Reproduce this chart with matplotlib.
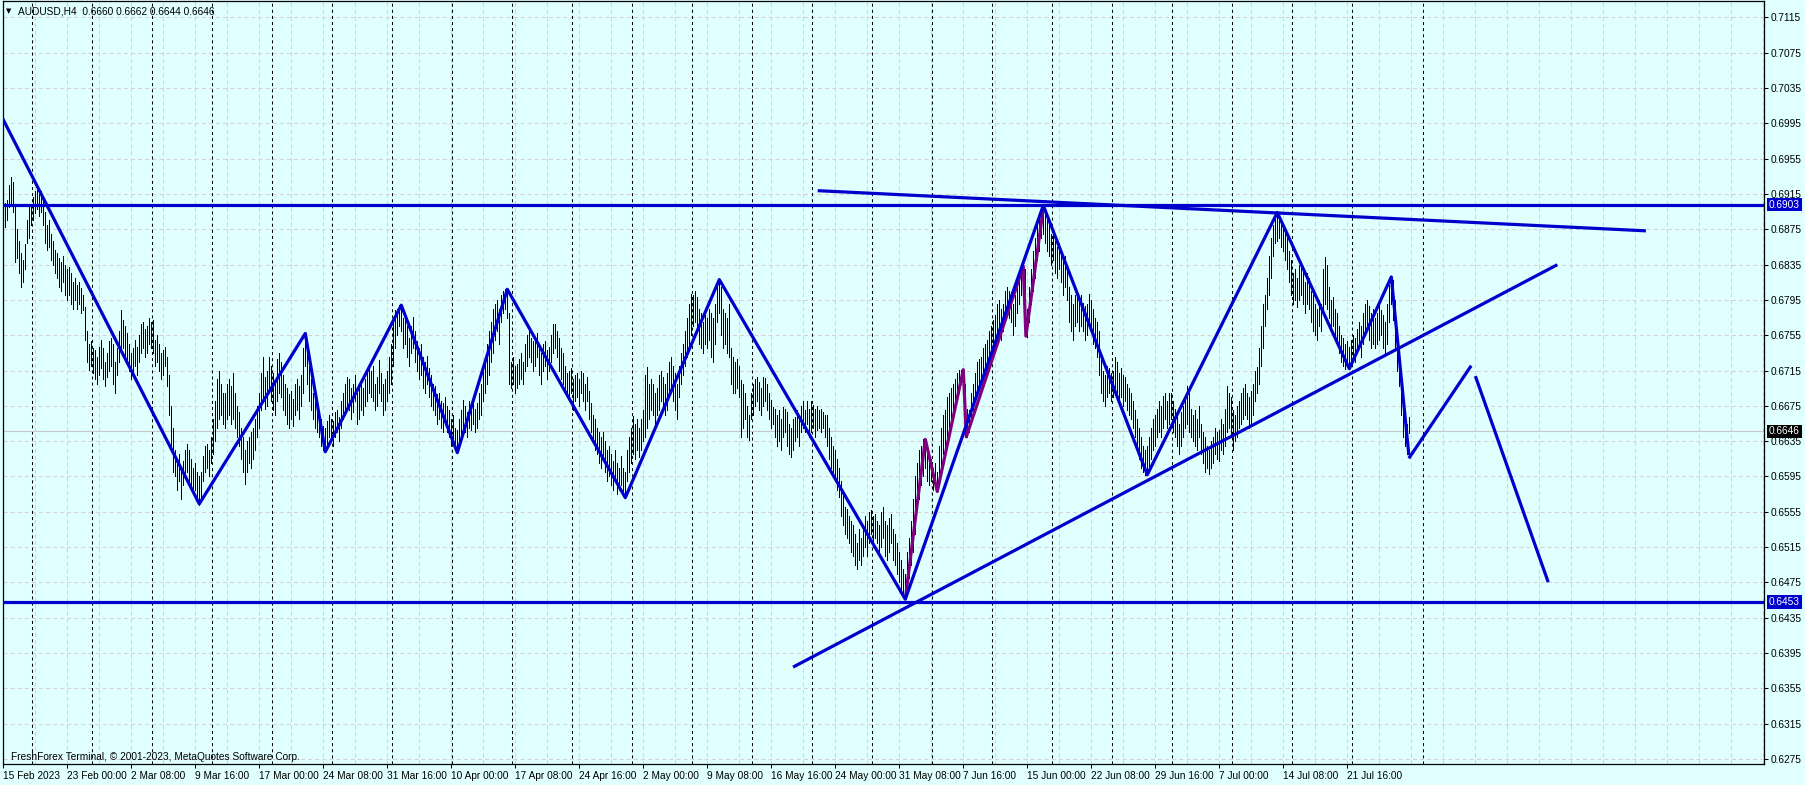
import numpy as np
import matplotlib
matplotlib.use("Agg")
import matplotlib.pyplot as plt
import matplotlib.transforms as mtransforms

# H4 bars (low, high) in pips, one per bar from 15 Feb 2023 16:00
H4_BARS = [
    (6863,6897),(6878,6905),(6885,6908),(6900,6925),(6905,6934),(6895,6928),(6838,6900),(6842,6875),(6825,6862),(6810,6848),
    (6815,6840),(6830,6858),(6859,6885),(6865,6904),(6880,6900),(6885,6912),(6893,6918),(6898,6921),(6890,6915),(6895,6918),
    (6880,6910),(6860,6895),(6851,6880),(6855,6885),(6840,6870),(6835,6862),(6825,6852),(6820,6848),(6810,6842),(6805,6838),
    (6815,6845),(6800,6835),(6795,6830),(6800,6832),(6790,6825),(6785,6815),(6795,6820),(6785,6812),(6790,6815),(6780,6808),
    (6783,6800),(6750,6787),(6725,6760),(6716,6745),(6720,6748),(6712,6740),(6705,6738),(6700,6730),(6710,6742),(6718,6750),
    (6705,6740),(6697,6725),(6708,6735),(6715,6748),(6720,6752),(6700,6745),(6690,6725),(6710,6740),(6725,6760),(6735,6783),
    (6740,6772),(6730,6765),(6722,6758),(6715,6745),(6705,6735),(6712,6740),(6720,6750),(6710,6742),(6725,6755),(6735,6768),
    (6740,6770),(6730,6762),(6735,6765),(6745,6774),(6740,6770),(6735,6772),(6720,6750),(6725,6755),(6715,6745),(6705,6735),
    (6710,6738),(6720,6742),(6697,6730),(6665,6710),(6630,6675),(6600,6650),(6595,6625),(6580,6615),(6590,6620),(6570,6605),
    (6585,6612),(6595,6625),(6600,6632),(6590,6625),(6585,6615),(6575,6605),(6580,6610),(6570,6600),(6563,6595),(6572,6600),
    (6590,6618),(6600,6630),(6605,6632),(6595,6625),(6610,6640),(6620,6660),(6635,6680),(6650,6705),(6660,6715),(6665,6700),
    (6655,6690),(6650,6690),(6660,6700),(6665,6705),(6655,6698),(6660,6712),(6650,6690),(6640,6675),(6630,6668),(6615,6650),
    (6600,6640),(6587,6625),(6600,6635),(6610,6640),(6605,6645),(6615,6650),(6625,6660),(6640,6675),(6650,6690),(6670,6712),
    (6680,6730),(6672,6708),(6675,6715),(6690,6730),(6680,6720),(6670,6712),(6665,6705),(6680,6728),(6690,6735),(6685,6725),
    (6670,6710),(6665,6700),(6655,6695),(6650,6688),(6660,6692),(6652,6683),(6665,6700),(6670,6705),(6660,6698),(6675,6710),
    (6690,6740),(6720,6757),(6700,6745),(6680,6720),(6670,6705),(6660,6690),(6650,6680),(6645,6675),(6640,6668),(6630,6660),
    (6625,6652),(6623,6650),(6630,6658),(6640,6665),(6635,6660),(6630,6658),(6640,6668),(6645,6670),(6635,6662),(6650,6680),
    (6660,6690),(6665,6700),(6675,6708),(6670,6705),(6660,6695),(6668,6700),(6680,6710),(6655,6690),(6660,6695),(6670,6700),
    (6665,6695),(6675,6705),(6680,6715),(6690,6722),(6685,6715),(6680,6720),(6670,6700),(6675,6708),(6690,6727),(6680,6712),
    (6665,6700),(6670,6705),(6680,6715),(6690,6730),(6700,6745),(6720,6772),(6740,6784),(6755,6785),(6765,6789),(6760,6789),
    (6740,6775),(6745,6778),(6730,6765),(6720,6752),(6735,6765),(6740,6776),(6725,6760),(6715,6748),(6705,6740),(6710,6745),
    (6695,6730),(6690,6725),(6700,6732),(6685,6718),(6675,6710),(6670,6700),(6665,6698),(6655,6688),(6660,6690),(6650,6680),
    (6645,6678),(6655,6685),(6645,6675),(6640,6670),(6630,6660),(6635,6665),(6625,6650),(6622,6648),(6630,6660),(6640,6670),
    (6650,6682),(6645,6675),(6640,6668),(6650,6680),(6648,6675),(6655,6685),(6645,6672),(6650,6678),(6660,6690),(6665,6700),
    (6680,6715),(6690,6730),(6700,6745),(6710,6760),(6725,6770),(6735,6785),(6750,6790),(6760,6795),(6745,6785),(6770,6800),
    (6780,6805),(6785,6807),(6775,6805),(6700,6780),(6695,6725),(6700,6730),(6690,6720),(6695,6722),(6700,6728),(6705,6735),
    (6700,6725),(6715,6745),(6720,6755),(6730,6760),(6725,6752),(6715,6748),(6720,6750),(6730,6758),(6710,6745),(6700,6735),
    (6715,6745),(6720,6748),(6705,6738),(6715,6742),(6725,6755),(6735,6768),(6740,6768),(6730,6760),(6715,6752),(6705,6740),
    (6700,6735),(6690,6720),(6685,6712),(6680,6715),(6690,6718),(6670,6705),(6680,6710),(6685,6712),(6675,6705),(6690,6715),
    (6680,6712),(6670,6700),(6680,6708),(6660,6692),(6645,6678),(6635,6665),(6625,6660),(6620,6650),(6610,6645),(6605,6640),
    (6615,6645),(6600,6635),(6590,6625),(6595,6630),(6585,6620),(6580,6612),(6590,6625),(6575,6610),(6580,6605),(6585,6618),
    (6578,6605),(6571,6600),(6590,6625),(6600,6640),(6610,6650),(6620,6663),(6615,6655),(6625,6660),(6617,6650),(6625,6660),
    (6635,6670),(6640,6710),(6650,6719),(6660,6700),(6670,6705),(6665,6700),(6655,6690),(6665,6695),(6670,6710),(6680,6715),
    (6675,6708),(6665,6700),(6670,6712),(6685,6725),(6690,6730),(6680,6720),(6670,6712),(6660,6700),(6685,6720),(6700,6735),
    (6710,6745),(6720,6760),(6730,6775),(6740,6790),(6755,6802),(6765,6800),(6770,6805),(6760,6798),(6745,6785),(6740,6780),
    (6735,6770),(6745,6778),(6740,6775),(6750,6785),(6730,6780),(6725,6775),(6745,6790),(6770,6810),(6780,6818),(6755,6810),
    (6740,6785),(6745,6780),(6735,6775),(6730,6790),(6700,6740),(6689,6730),(6690,6725),(6695,6728),(6685,6720),(6640,6704),
    (6650,6700),(6660,6690),(6640,6675),(6636,6665),(6660,6690),(6665,6700),(6675,6705),(6680,6708),(6670,6702),(6665,6695),
    (6675,6708),(6680,6706),(6670,6700),(6660,6690),(6650,6682),(6655,6674),(6640,6672),(6630,6665),(6635,6670),(6625,6660),
    (6640,6674),(6645,6672),(6630,6668),(6620,6655),(6617,6650),(6625,6660),(6635,6662),(6640,6670),(6630,6665),(6645,6675),
    (6650,6680),(6645,6670),(6655,6680),(6640,6672),(6645,6680),(6650,6676),(6640,6672),(6648,6675),(6650,6670),(6645,6672),
    (6650,6668),(6640,6665),(6630,6665),(6615,6650),(6605,6640),(6600,6630),(6590,6625),(6580,6615),(6572,6605),(6550,6590),
    (6540,6575),(6530,6560),(6525,6558),(6520,6550),(6510,6545),(6505,6540),(6495,6530),(6490,6520),(6500,6535),(6495,6525),
    (6505,6540),(6515,6550),(6505,6545),(6520,6555),(6530,6557),(6515,6550),(6525,6552),(6520,6545),(6510,6540),(6515,6555),
    (6525,6560),(6505,6545),(6500,6540),(6510,6548),(6520,6552),(6500,6535),(6495,6530),(6485,6520),(6475,6510),(6465,6500),
    (6460,6490),(6456,6485),(6465,6510),(6480,6525),(6495,6545),(6510,6570),(6530,6595),(6560,6610),(6570,6625),(6585,6630),
    (6595,6637),(6605,6637),(6590,6625),(6585,6620),(6590,6615),(6580,6605),(6582,6610),(6578,6600),(6590,6630),(6605,6650),
    (6620,6665),(6630,6670),(6640,6685),(6650,6690),(6660,6695),(6665,6700),(6670,6705),(6680,6712),(6690,6716),(6700,6716),
    (6690,6716),(6650,6700),(6640,6672),(6645,6670),(6660,6690),(6670,6700),(6680,6712),(6690,6725),(6695,6728),(6700,6730),
    (6705,6740),(6710,6745),(6715,6750),(6725,6760),(6735,6765),(6740,6772),(6745,6778),(6755,6790),(6760,6795),(6750,6785),
    (6760,6790),(6770,6805),(6780,6810),(6775,6805),(6770,6800),(6755,6790),(6765,6800),(6780,6815),(6790,6825),(6800,6832),
    (6810,6833),(6755,6830),(6753,6785),(6770,6810),(6790,6830),(6805,6850),(6820,6865),(6840,6880),(6850,6890),(6865,6899),
    (6870,6899),(6860,6895),(6850,6885),(6845,6880),(6835,6870),(6840,6875),(6825,6862),(6820,6855),(6830,6860),(6815,6850),
    (6800,6840),(6810,6845),(6795,6830),(6770,6810),(6760,6800),(6750,6790),(6765,6800),(6770,6805),(6760,6795),(6765,6800),
    (6760,6792),(6750,6788),(6755,6790),(6765,6802),(6760,6795),(6745,6785),(6740,6775),(6730,6770),(6710,6760),(6690,6730),
    (6680,6715),(6675,6710),(6685,6720),(6690,6718),(6680,6712),(6685,6715),(6695,6730),(6690,6725),(6680,6712),(6685,6718),
    (6675,6710),(6680,6708),(6670,6700),(6665,6695),(6660,6690),(6650,6680),(6640,6670),(6625,6660),(6615,6650),(6605,6640),
    (6600,6630),(6597,6625),(6600,6630),(6605,6640),(6615,6650),(6625,6660),(6630,6665),(6640,6672),(6645,6680),(6640,6675),
    (6650,6686),(6660,6690),(6650,6680),(6655,6690),(6660,6689),(6645,6680),(6640,6672),(6630,6665),(6620,6655),(6630,6668),
    (6640,6675),(6650,6685),(6655,6697),(6645,6690),(6640,6672),(6635,6665),(6630,6670),(6625,6660),(6640,6675),(6620,6655),
    (6610,6645),(6600,6640),(6605,6630),(6598,6625),(6605,6635),(6610,6640),(6620,6650),(6615,6645),(6612,6648),(6625,6660),
    (6620,6655),(6630,6672),(6645,6697),(6650,6690),(6640,6685),(6625,6670),(6635,6665),(6640,6675),(6650,6680),(6655,6690),
    (6660,6695),(6665,6700),(6660,6690),(6650,6685),(6655,6692),(6665,6700),(6680,6715),(6690,6719),(6700,6740),(6720,6765),
    (6740,6790),(6765,6800),(6785,6820),(6800,6845),(6820,6865),(6845,6880),(6860,6894),(6862,6894),(6865,6890),(6855,6885),
    (6850,6880),(6840,6872),(6830,6865),(6815,6850),(6800,6840),(6790,6825),(6795,6830),(6787,6820),(6795,6835),(6800,6838),
    (6790,6830),(6780,6815),(6790,6825),(6785,6820),(6770,6805),(6760,6800),(6755,6790),(6750,6785),(6765,6795),(6760,6790),
    (6780,6830),(6790,6844),(6785,6835),(6775,6810),(6760,6795),(6765,6798),(6750,6785),(6745,6780),(6735,6765),(6725,6755),
    (6720,6752),(6717,6745),(6720,6748),(6717,6742),(6725,6750),(6730,6755),(6725,6752),(6735,6762),(6740,6770),(6730,6765),
    (6745,6780),(6755,6790),(6760,6795),(6750,6788),(6740,6780),(6745,6785),(6740,6775),(6745,6780),(6750,6790),(6755,6783),
    (6740,6778),(6734,6770),(6745,6790),(6770,6812),(6790,6821),(6772,6818),(6740,6795),(6715,6760),(6697,6740),(6665,6705),
    (6640,6685),(6630,6670),(6621,6655),(6644,6662),
]

# zigzag (blue) vertices: bar index, price
ZZ_BARS = [0, 98, 151, 161, 199, 227, 252, 311, 358, 451, 520, 572, 637, 673, 694, 702.7]
ZZ_PRICES = [0.6999, 0.6564, 0.6757, 0.6623, 0.6789, 0.6622, 0.6807, 0.6571, 0.6818,
             0.6456, 0.6902, 0.6597, 0.6894, 0.6717, 0.6821, 0.6621]

# smaller zigzag (purple) on the May-June rally
PURPLE_BARS = [451, 461, 467, 480, 481.5, 510, 511.3, 520]
PURPLE_PRICES = [0.6456, 0.6637, 0.6578, 0.6716, 0.6640, 0.6833, 0.6754, 0.6899]

# projected moves
PROJ1_BARS = [703.2, 733.5]
PROJ1_PRICES = [0.6617, 0.6719]
PROJ2_BARS = [736.3, 772.2]
PROJ2_PRICES = [0.6707, 0.6477]

# trend lines
RES_BARS = [408, 820.5]
RES_PRICES = [0.69186, 0.68733]
SUP_BARS = [395.6, 776.3]
SUP_PRICES = [0.6380, 0.6834]

LEVELS = [0.6903, 0.6453]
LEVEL_LABELS = ["0.6903", "0.6453"]
BID = 0.6646

Y_TICKS = [0.7115, 0.7075, 0.7035, 0.6995, 0.6955, 0.6915, 0.6875, 0.6835, 0.6795, 0.6755, 0.6715,
           0.6675, 0.6635, 0.6595, 0.6555, 0.6515, 0.6475, 0.6435, 0.6395, 0.6355, 0.6315, 0.6275]

X_LABELS = ["15 Feb 2023", "23 Feb 00:00", "2 Mar 08:00", "9 Mar 16:00", "17 Mar 00:00", "24 Mar 08:00",
            "31 Mar 16:00", "10 Apr 00:00", "17 Apr 08:00", "24 Apr 16:00", "2 May 00:00", "9 May 08:00",
            "16 May 16:00", "24 May 00:00", "31 May 08:00", "7 Jun 16:00", "15 Jun 00:00", "22 Jun 08:00",
            "29 Jun 16:00", "7 Jul 00:00", "14 Jul 08:00", "21 Jul 16:00"]
X_TICK_BARS = list(range(0, 32 * len(X_LABELS), 32))

# weekly period separators
WEEK_BARS = [14.3, 44.3, 74.3, 104.3, 134.3, 164.3, 194.3, 224.3, 254.3, 284.3, 314.3, 344.3,
             374.3, 404.3, 434.3, 464.3, 494.3, 524.3, 554.3, 584.3, 614.3, 644.3, 674.3, 710]
GRID_BARS = list(range(16, 881, 16))

BG = "#E0FFFF"
BLUE = "#0000CD"
PURPLE = "#800080"
GRID = "#d9cfd4"

plt.rcParams["font.family"] = ["Liberation Sans", "DejaVu Sans"]
plt.rcParams["font.size"] = 7.3
plt.rcParams["lines.scale_dashes"] = False

W, H = 1805, 785
fig = plt.figure(figsize=(W / 100, H / 100), dpi=100, facecolor=BG)
ax = fig.add_axes([2.5 / W, 1 - 764 / H, (1764 - 2.5) / W, (764 - 1) / H])
ax.set_facecolor(BG)
ax.set_xlim(-0.4, 880.35)
ax.set_ylim(0.62694, 0.71335)

# grid
for y in Y_TICKS:
    ax.axhline(y, color=GRID, lw=0.75, ls=(0, (2.9, 2.2)), zorder=0)
for x in GRID_BARS:
    ax.axvline(x, color=GRID, lw=0.75, ls=(0, (2.9, 2.2)), zorder=0)
for x in WEEK_BARS:
    ax.axvline(x, color="black", lw=0.75, ls=(0, (2.2, 2.2)), zorder=1)

# bid line
ax.axhline(BID, color="#c8c8c8", lw=0.8, zorder=1)

# bars
lows = np.array([b[0] for b in H4_BARS]) / 10000
highs = np.array([b[1] for b in H4_BARS]) / 10000
idx = np.arange(len(H4_BARS))
ax.vlines(idx, lows, highs, color="black", lw=0.5, antialiased=False, zorder=2)

# lines
lw = 2.3
for lv in LEVELS:
    ax.axhline(lv, color=BLUE, lw=lw, zorder=3)
ax.plot(PURPLE_BARS, PURPLE_PRICES, color=PURPLE, lw=lw, zorder=3, solid_capstyle="butt")
ax.plot(ZZ_BARS, ZZ_PRICES, color=BLUE, lw=lw, zorder=4)
ax.plot(PROJ1_BARS, PROJ1_PRICES, color=BLUE, lw=lw, zorder=4)
ax.plot(PROJ2_BARS, PROJ2_PRICES, color=BLUE, lw=lw, zorder=4)
ax.plot(RES_BARS, RES_PRICES, color=BLUE, lw=lw, zorder=4)
ax.plot(SUP_BARS, SUP_PRICES, color=BLUE, lw=lw, zorder=4)

# axes styling
for s in ax.spines.values():
    s.set_color("black")
    s.set_linewidth(0.9)
ax.yaxis.tick_right()
ax.set_yticks(Y_TICKS)
ax.set_yticklabels(["%.4f" % v for v in Y_TICKS])
ax.tick_params(axis="y", direction="out", length=3, width=0.75, pad=2, labelsize=7.3)
ax.set_xticks(X_TICK_BARS)
ax.set_xticklabels(X_LABELS)
ax.tick_params(axis="x", direction="out", length=3, width=0.75, pad=2, labelsize=7.3)
for lab in ax.get_xticklabels():
    lab.set_horizontalalignment("left")

# price boxes on the axis
trans = mtransforms.blended_transform_factory(ax.transAxes, ax.transData)
xbox = (1769 - 2.5) / (1764 - 2.5)
for lv, txt in zip(LEVELS, LEVEL_LABELS):
    ax.text(xbox, lv, txt, transform=trans, ha="left", va="center", color="white", fontsize=7.3,
            bbox=dict(facecolor=BLUE, edgecolor="none", pad=1.3), zorder=10, clip_on=False)
ax.text(xbox, BID, "%.4f" % BID, transform=trans, ha="left", va="center", color="white", fontsize=7.3,
        bbox=dict(facecolor="black", edgecolor="none", pad=1.3), zorder=10, clip_on=False)

# header and copyright
fig.text(6 / W, 1 - 11 / H, "\u25bc", fontsize=5, va="center", family="DejaVu Sans")
fig.text(18 / W, 1 - 11 / H, "AUDUSD,H4  0.6660 0.6662 0.6644 0.6646", va="center", fontsize=7.3)
fig.text(11 / W, 1 - 757 / H, "FreshForex Terminal, \u00a9 2001-2023, MetaQuotes Software Corp.",
         va="center", fontsize=7.3)

fig.savefig("out.png", dpi=100, facecolor=BG)
